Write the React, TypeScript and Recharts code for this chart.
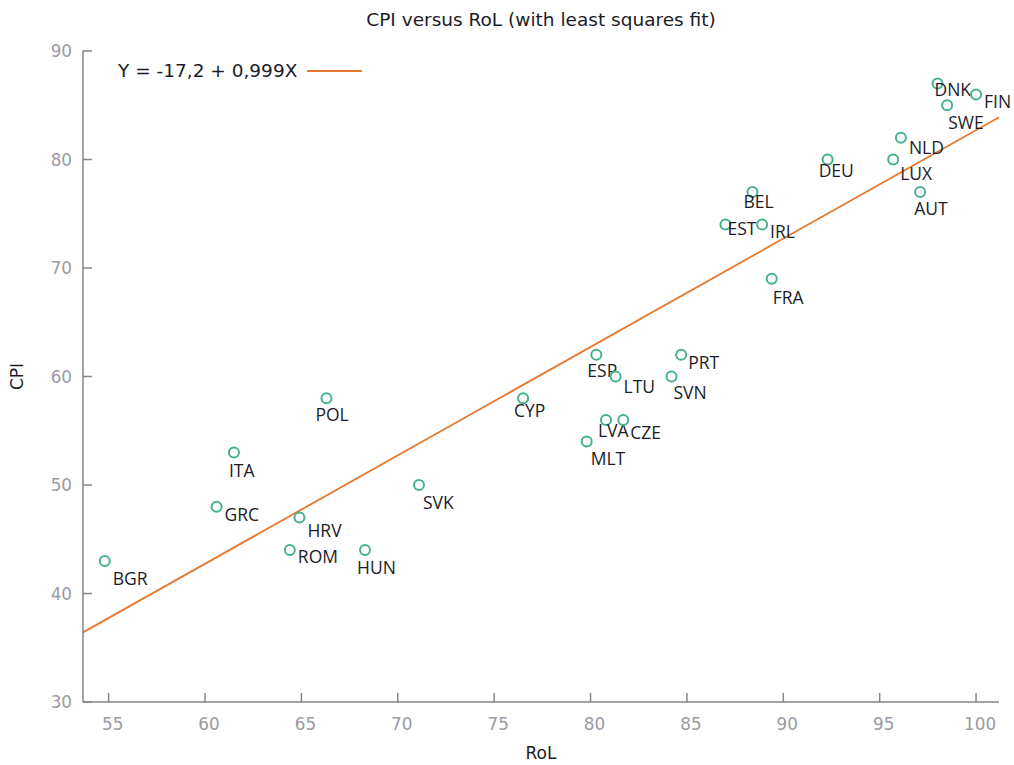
import { ScatterChart, Scatter, XAxis, YAxis, ReferenceLine } from "recharts";

const countries = ["BGR", "GRC", "ITA", "HRV", "ROM", "HUN", "POL", "SVK", "CYP", "ESP", "LTU", "LVA", "CZE", "MLT", "PRT", "SVN", "FRA", "EST", "IRL", "BEL", "DEU", "LUX", "NLD", "AUT", "DNK", "FIN", "SWE"];
const rol = [54.8, 60.6, 61.5, 64.9, 64.4, 68.3, 66.3, 71.1, 76.5, 80.3, 81.3, 80.8, 81.7, 79.8, 84.7, 84.2, 89.4, 87.0, 88.9, 88.4, 92.3, 95.7, 96.1, 97.1, 98.0, 100.0, 98.5];
const cpi = [43, 48, 53, 47, 44, 44, 58, 50, 58, 62, 60, 56, 56, 54, 62, 60, 69, 74, 74, 77, 80, 80, 82, 77, 87, 86, 85];

const xTicks = [55, 60, 65, 70, 75, 80, 85, 90, 95, 100];
const yTicks = [30, 40, 50, 60, 70, 80, 90];

// least squares fit, as printed in the key
const intercept = -17.2;
const slope = 0.999;
const fitLabel = "Y = -17,2 + 0,999X";

const X_MIN = 53.67;
const X_MAX = 101.19;

// where each country name sits relative to its marker (left edge, vertical middle)
const labelNudge: Record<string, [number, number]> = {
  BGR: [8, 18], GRC: [8, 8], ITA: [-5, 18], HRV: [8, 13], ROM: [8, 7], HUN: [-8, 18],
  POL: [-11, 16], SVK: [4, 18], CYP: [-9, 12], ESP: [-9, 16], LTU: [8, 10], LVA: [-8, 10.5],
  CZE: [7, 13], MLT: [4, 17], PRT: [7, 8], SVN: [2, 16], FRA: [1, 18.5], EST: [2, 4.5],
  IRL: [8, 7], BEL: [-9, 10], DEU: [-9, 11.5], LUX: [7, 14], NLD: [8, 10], AUT: [-6, 17],
  DNK: [-3, 6], FIN: [8, 7], SWE: [1, 17],
};

const points = countries.map((c, i) => ({ name: c, x: rol[i], y: cpi[i] }));

const TEAL = "#46b28c";
const ORANGE = "#e6782e";
const AXIS = "#858585";
const TICK_TEXT = "#999aa3";
const INK = "#1c1c28";
const FONT = "'DejaVu Sans', Verdana, sans-serif";
const LABEL_FONT = "'Open Sans', sans-serif";

function PointShape(props: any) {
  const { cx, cy, payload } = props;
  const [dx, dy] = labelNudge[payload.name] || [8, 12];
  return (
    <g>
      <circle cx={cx} cy={cy} r={5} fill="none" stroke={TEAL} strokeWidth={2} />
      <text x={cx + dx} y={cy + dy + 6.3} fontSize={17.5} fontFamily={LABEL_FONT} fill={INK}>
        {payload.name}
      </text>
    </g>
  );
}

function XTick(props: any) {
  const { x, y, payload } = props;
  return (
    <g>
      <line x1={x} y1={y} x2={x} y2={y - 9} stroke={AXIS} strokeWidth={1.5} />
      <text x={x + 4} y={y + 22} textAnchor="middle" dominantBaseline="central" fontSize={16.8} fontFamily={FONT} fill={TICK_TEXT}>
        {payload.value}
      </text>
    </g>
  );
}

function YTick(props: any) {
  const { x, y, payload } = props;
  return (
    <g>
      <line x1={x} y1={y} x2={x + 9} y2={y} stroke={AXIS} strokeWidth={1.5} />
      <text x={x - 11} y={y} textAnchor="end" dominantBaseline="central" fontSize={16.8} fontFamily={FONT} fill={TICK_TEXT}>
        {payload.value}
      </text>
    </g>
  );
}

function XLabel(props: any) {
  const { viewBox } = props;
  return (
    <text x={viewBox.x + viewBox.width / 2} y={753} textAnchor="middle" dominantBaseline="central" fontSize={17} fontFamily={FONT} fill={INK}>
      RoL
    </text>
  );
}

function YLabel(props: any) {
  const { viewBox } = props;
  const cy = viewBox.y + viewBox.height / 2;
  return (
    <text x={17} y={cy} transform={`rotate(-90 17 ${cy})`} textAnchor="middle" dominantBaseline="central" fontSize={17} fontFamily={FONT} fill={INK}>
      CPI
    </text>
  );
}

export default function App() {
  return (
    <div style={{ position: "absolute", left: 0, top: 0, width: 1014, height: 765, background: "#fff" }}>
      <div
        style={{
          position: "absolute", left: 83, width: 916, top: 8, textAlign: "center",
          fontFamily: FONT, fontSize: 18.5, color: INK, lineHeight: "24px",
        }}
      >
        CPI versus RoL (with least squares fit)
      </div>
      <div
        style={{
          position: "absolute", left: 118, top: 59, display: "flex", alignItems: "center",
          fontFamily: FONT, fontSize: 18.5, color: INK, lineHeight: "24px", zIndex: 2,
        }}
      >
        <span>{fitLabel}</span>
        <svg width={60} height={10} style={{ marginLeft: 8 }}>
          <line x1={2} y1={5} x2={57} y2={5} stroke={ORANGE} strokeWidth={2} />
        </svg>
      </div>
      <ScatterChart width={1014} height={765} margin={{ top: 51, right: 15, bottom: 33, left: 0 }} style={{ overflow: "visible" }}>
        <XAxis
          type="number"
          dataKey="x"
          domain={[X_MIN, X_MAX]}
          ticks={xTicks}
          interval={0}
          tickSize={0}
          tickMargin={0}
          tick={<XTick />}
          tickLine={false}
          axisLine={{ stroke: AXIS, strokeWidth: 1.5 }}
          height={30}
          label={<XLabel />}
        />
        <YAxis
          type="number"
          dataKey="y"
          domain={[30, 90]}
          ticks={yTicks}
          interval={0}
          tickSize={0}
          tickMargin={0}
          tick={<YTick />}
          tickLine={false}
          axisLine={{ stroke: AXIS, strokeWidth: 1.5 }}
          width={83}
          label={<YLabel />}
        />
        <ReferenceLine
          segment={[
            { x: X_MIN, y: intercept + slope * X_MIN },
            { x: X_MAX, y: intercept + slope * X_MAX },
          ]}
          stroke={ORANGE}
          strokeWidth={1.8}
          ifOverflow="visible"
        />
        <Scatter data={points} shape={<PointShape />} isAnimationActive={false} />
      </ScatterChart>
    </div>
  );
}
